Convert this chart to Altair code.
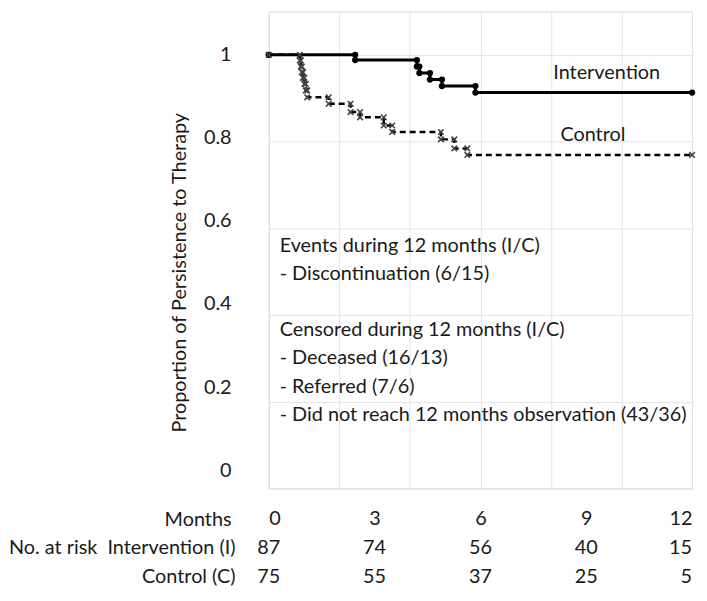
import altair as alt
import pandas as pd

# ---- data ----
int_months = [0, 2.45, 4.20, 4.27, 4.57, 4.91, 5.86, 12]
int_surv = [1.0, 0.988, 0.973, 0.958, 0.943, 0.928, 0.913, 0.913]
ctl_months = [0, 0.88, 0.91, 0.94, 0.97, 1.01, 1.05, 1.09, 1.70, 2.32, 2.59,
              3.26, 3.50, 4.88, 5.26, 5.63, 12]
ctl_surv = [1.0, 0.987, 0.973, 0.960, 0.947, 0.933, 0.918, 0.902, 0.887, 0.868,
            0.856, 0.837, 0.822, 0.805, 0.784, 0.769, 0.769]

y_ticks = [0, 0.2, 0.4, 0.6, 0.8, 1.0]
x_grid = [0, 2, 4, 6, 8, 10, 12]
month_labels = [0, 3, 6, 9, 12]
risk_months = [0, 3, 6, 9, 12]
risk_int = [87, 74, 56, 40, 15]
risk_ctl = [75, 55, 37, 25, 5]
row_labels = ["No. at risk\u00a0\u00a0Intervention (I)", "Control (C)"]
series_names = ["Intervention", "Control"]
series_label_month = [9.58, 9.19]
series_label_surv = [0.958, 0.814]
events_lines = ["Events during 12 months (I/C)", "- Discontinuation (6/15)"]
censored_lines = [
    "Censored during 12 months (I/C)",
    "- Deceased (16/13)",
    "- Referred (7/6)",
    "- Did not reach 12 months observation (43/36)",
]

FONT = "Lato"
FS = 20
TXT = "#1a1a1a"
GRID = "#e3e3e3"


def vertices(months, surv, name):
    pts = [(months[0], surv[0])]
    for i in range(1, len(months)):
        if surv[i] != surv[i - 1]:
            pts.append((months[i], surv[i - 1]))
        pts.append((months[i], surv[i]))
    return pd.DataFrame({
        "month": [p[0] for p in pts],
        "surv": [p[1] for p in pts],
        "order": list(range(len(pts))),
        "series": name,
    })


km = pd.concat([vertices(int_months, int_surv, "Intervention"),
                vertices(ctl_months, ctl_surv, "Control")], ignore_index=True)

xs = alt.Scale(domain=[0, 12], nice=False, zero=False)
ys = alt.Scale(domain=[0, 1.1], nice=False, zero=False)

x_enc = alt.X("month:Q", scale=xs, axis=alt.Axis(
    values=month_labels, grid=False, ticks=False, domain=False,
    labelFontSize=FS, labelFont=FONT, labelColor=TXT, labelPadding=20,
    labelFlush=True, title="Months", titleX=-38, titleY=31,
    titleAlign="right", titleBaseline="middle", titleFontSize=FS,
    titleFont=FONT, titleFontWeight="normal", titleColor=TXT))
y_enc = alt.Y("surv:Q", scale=ys, axis=alt.Axis(
    orient="right", values=y_ticks, grid=True, gridColor=GRID, labels=False,
    ticks=False, domain=False, title=None, minExtent=0, maxExtent=0))

base = alt.Chart(km)
int_line = base.transform_filter(alt.datum.series == "Intervention").mark_line(
    color="black", strokeWidth=3).encode(x=x_enc, y=y_enc, order="order:Q")
int_pts = base.transform_filter(alt.datum.series == "Intervention").mark_point(
    shape="circle", filled=True, color="black", size=40, opacity=1).encode(
    x=x_enc, y=y_enc)
ctl_line = base.transform_filter(alt.datum.series == "Control").mark_line(
    color="black", strokeWidth=2.5, strokeDash=[6, 4]).encode(
    x=x_enc, y=y_enc, order="order:Q")
ctl_pts = base.transform_filter(alt.datum.series == "Control").mark_point(
    shape="M-1,-1L1,1M-1,1L1,-1", filled=False, color="#444444", size=32,
    strokeWidth=1.6, opacity=1).encode(x=x_enc, y=y_enc)

lab_df = pd.DataFrame({"month": series_label_month, "surv": series_label_surv,
                       "label": series_names})
series_text = alt.Chart(lab_df).mark_text(
    font=FONT, fontSize=FS, color=TXT, align="center", baseline="middle"
).encode(x=x_enc, y=y_enc, text="label:N")

ev_df = pd.DataFrame({"month": [0.31], "surv": [0.581]})
events = alt.Chart(ev_df).mark_text(
    text=events_lines, font=FONT, fontSize=FS, color=TXT, align="left",
    baseline="top", lineHeight=28.3).encode(x=x_enc, y=y_enc)
ce_df = pd.DataFrame({"month": [0.31], "surv": [0.387]})
censored = alt.Chart(ce_df).mark_text(
    text=censored_lines, font=FONT, fontSize=FS, color=TXT, align="left",
    baseline="top", lineHeight=28.3).encode(x=x_enc, y=y_enc)

curves = alt.layer(int_line, int_pts, ctl_line, ctl_pts, series_text,
                   events, censored)

tick_df = pd.DataFrame({"tick": y_ticks})
lab_layer = alt.Chart(tick_df).mark_point(opacity=0).encode(
    x=alt.XDatum(0, scale=alt.Scale(domain=[0, 12], nice=False, zero=False),
                 axis=alt.Axis(orient="top", values=x_grid, grid=True,
                               gridColor=GRID, labels=False, ticks=False,
                               domain=False, title=None, minExtent=0,
                               maxExtent=0)),
    y=alt.Y("tick:Q",
            scale=alt.Scale(domain=[-0.04286, 1.10238], nice=False, zero=False),
            axis=alt.Axis(orient="left", values=y_ticks, format=".1~f",
                          grid=False, ticks=False, domain=False,
                          labelPadding=38, labelFontSize=FS,
                          labelFont=FONT, labelColor=TXT,
                          title="Proportion of Persistence to Therapy",
                          titleX=-90, titleY=263, titleAlign="center",
                          titleBaseline="middle", titleFontSize=FS,
                          titleFont=FONT, titleFontWeight="normal",
                          titleColor=TXT)),
)

main = alt.layer(lab_layer, curves).resolve_scale(
    x="independent", y="independent").properties(width=427, height=481)

risk_df = pd.DataFrame({
    "month": risk_months + risk_months,
    "n": risk_int + risk_ctl,
    "row": [row_labels[0]] * len(risk_months) + [row_labels[1]] * len(risk_months),
})
tx = alt.X("month:Q", scale=alt.Scale(domain=[0, 12], nice=False, zero=False),
           axis=None)
ty = alt.Y("row:N", sort=row_labels,
           scale=alt.Scale(type="point", padding=0),
           axis=alt.Axis(ticks=False, domain=False, grid=False,
                         labelPadding=34, labelFontSize=FS, labelFont=FONT,
                         labelColor=TXT, labelLimit=0, title=None))
t_center = alt.Chart(risk_df).transform_filter("datum.month < 12").mark_text(
    font=FONT, fontSize=FS, color=TXT, align="center", baseline="middle"
).encode(x=tx, y=ty, text="n:Q")
t_right = alt.Chart(risk_df).transform_filter("datum.month >= 12").mark_text(
    font=FONT, fontSize=FS, color=TXT, align="right", baseline="middle"
).encode(x=tx, y=ty, text="n:Q")
table = alt.layer(t_center, t_right).properties(
    width=427, height=29, view=alt.ViewBackground(strokeOpacity=0))

chart = alt.vconcat(main, table, spacing=8).properties(
    padding={"left": 0, "top": 0, "right": 0, "bottom": 0}
).configure_view(stroke="#d9d9d9")

chart.save("out.html", embed_options={"renderer": "svg", "actions": False})
